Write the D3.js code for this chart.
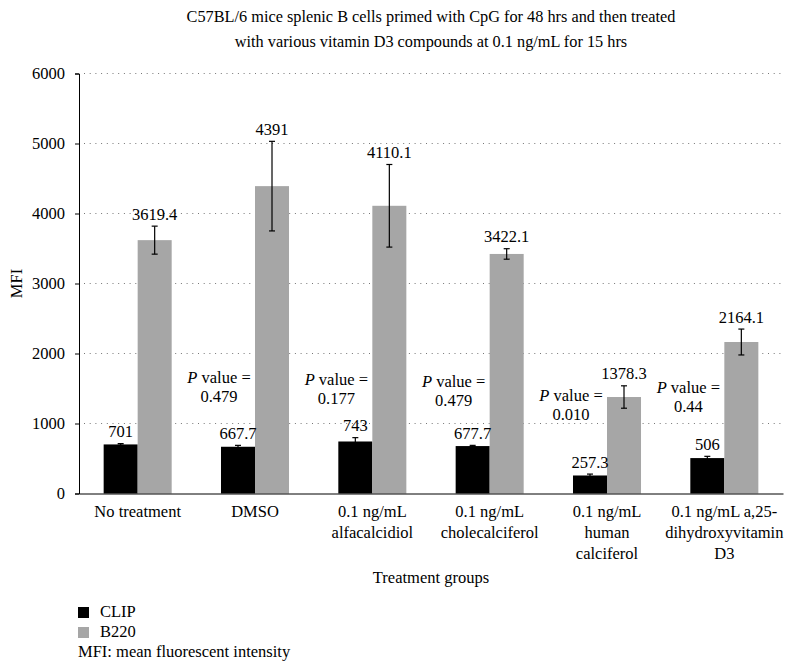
<!DOCTYPE html>
<html><head><meta charset="utf-8">
<script src="https://cdn.jsdelivr.net/npm/d3@7"></script>
<style>body{margin:0;background:#fff}svg{display:block}text{font-family:"Liberation Serif","DejaVu Serif",serif;fill:#000}</style>
</head><body><svg id="c" width="793" height="671"></svg>
<script>
const categories = [
  ["No treatment"],
  ["DMSO"],
  ["0.1 ng/mL","alfacalcidiol"],
  ["0.1 ng/mL","cholecalciferol"],
  ["0.1 ng/mL","human","calciferol"],
  ["0.1 ng/mL a,25-","dihydroxyvitamin","D3"]
];
const seriesNames = ["CLIP","B220"];
const seriesColors = ["#000000","#a6a6a6"];
const clipValues = [701, 667.7, 743, 677.7, 257.3, 506];
const clipErrors = [12, 20, 55, 10, 20, 25];
const b220Values = [3619.4, 4391, 4110.1, 3422.1, 1378.3, 2164.1];
const b220Errors = [200, 640, 590, 75, 160, 185];
const clipLabels = ["701","667.7","743","677.7","257.3","506"];
const b220Labels = ["3619.4","4391","4110.1","3422.1","1378.3","2164.1"];
const pValues = [null, "0.479", "0.177", "0.479", "0.010", "0.44"];
const pLabelAt = [null, 1580, 1550, 1520, 1320, 1440];
const yTicks = [0,1000,2000,3000,4000,5000,6000];
const titleLines = ["C57BL/6 mice splenic B cells primed with CpG for 48 hrs and then treated",
                    "with various vitamin D3 compounds at 0.1 ng/mL for 15 hrs"];
const xTitle = "Treatment groups";
const yTitle = "MFI";
const noteText = "MFI: mean fluorescent intensity";

const svg = d3.select("#c");
const L = 79, R = 783, T = 73.5, B = 493.5;
const FS = 16.5;

const x0 = d3.scaleBand().domain(d3.range(categories.length)).range([L, R]).padding(0);
const x1 = d3.scaleBand().domain(seriesNames).range([0, x0.bandwidth()]).paddingInner(0).paddingOuter(0.725);
const y = d3.scaleLinear().domain([0, 6000]).range([B, T]);

// title
svg.append("g").selectAll("text").data(titleLines).join("text")
  .attr("x", 431).attr("y", (d,i)=>22 + i*24.5).attr("text-anchor","middle")
  .style("font-size","16.3px").text(d=>d);

// gridlines
svg.append("g").selectAll("line").data(yTicks.filter(d=>d>0)).join("line")
  .attr("x1", L+5).attr("x2", R).attr("y1", d=>y(d)).attr("y2", d=>y(d))
  .attr("stroke","#777").attr("stroke-width",1).attr("stroke-dasharray","1,4.7");

// y axis
const yAxis = d3.axisLeft(y).tickValues(yTicks).tickSize(4).tickPadding(10).tickFormat(d3.format("d"));
const gy = svg.append("g").attr("transform",`translate(${L},0)`).call(yAxis);
gy.select(".domain").attr("stroke","#000");
gy.selectAll("text").style("font-size",FS+"px").style("font-family",'"Liberation Serif",serif');

// bars
const data = categories.map((c,i)=>({i, vals:[
  {s:"CLIP", v:clipValues[i], e:clipErrors[i], lab:clipLabels[i]},
  {s:"B220", v:b220Values[i], e:b220Errors[i], lab:b220Labels[i]}]}));
const g = svg.append("g").selectAll("g").data(data).join("g")
  .attr("transform", d=>`translate(${x0(d.i)},0)`);
g.selectAll("rect").data(d=>d.vals).join("rect")
  .attr("x", d=>x1(d.s)).attr("width", x1.bandwidth())
  .attr("y", d=>y(d.v)).attr("height", d=>B - y(d.v))
  .attr("fill", (d,i)=>seriesColors[i]);
// error bars
const eb = g.selectAll("g.err").data(d=>d.vals).join("g").attr("class","err")
  .attr("transform", d=>`translate(${x1(d.s)+x1.bandwidth()/2},0)`);
eb.append("line").attr("y1",d=>y(d.v+d.e)).attr("y2",d=>y(d.v-d.e)).attr("stroke","#000").attr("stroke-width",1.2);
eb.append("line").attr("x1",-3).attr("x2",3).attr("y1",d=>y(d.v+d.e)).attr("y2",d=>y(d.v+d.e)).attr("stroke","#000").attr("stroke-width",1.2);
eb.append("line").attr("x1",-3).attr("x2",3).attr("y1",d=>y(d.v-d.e)).attr("y2",d=>y(d.v-d.e)).attr("stroke","#000").attr("stroke-width",1.2);
eb.append("text").attr("y",d=>y(d.v+d.e)-6.5).attr("text-anchor","middle").style("font-size",FS+"px").text(d=>d.lab);

// p-values
const pg = svg.append("g").selectAll("g").data(d3.range(categories.length).filter(i=>pValues[i]!==null)).join("g")
  .attr("transform", i=>`translate(${x0(i)+x0.bandwidth()/2-36},${y(pLabelAt[i])})`);
pg.append("text").attr("text-anchor","middle").attr("y",0).style("font-size",FS+"px")
  .call(t=>{t.append("tspan").style("font-style","italic").text("P"); t.append("tspan").text(" value =");});
pg.append("text").attr("text-anchor","middle").attr("y",19).style("font-size",FS+"px").text(i=>pValues[i]);

// x axis
const xAxis = d3.axisBottom(x0).tickSize(0).tickFormat("");
const gx = svg.append("g").attr("transform",`translate(0,${B})`).call(xAxis);
gx.select(".domain").attr("stroke","#000");
svg.append("g").selectAll("text").data(categories.map((c,i)=>({c,i}))).join("text")
  .attr("text-anchor","middle").style("font-size",FS+"px")
  .attr("transform", d=>`translate(${x0(d.i)+x0.bandwidth()/2},${B+23.5})`)
  .selectAll("tspan").data(d=>d.c).join("tspan").attr("x",0).attr("y",(d,j)=>j*21).text(d=>d);

svg.append("text").attr("x",(L+R)/2).attr("y",583).attr("text-anchor","middle").style("font-size",FS+"px").text(xTitle);
svg.append("text").attr("transform",`translate(21.5,${(T+B)/2}) rotate(-90)`).attr("text-anchor","middle").style("font-size",FS+"px").text(yTitle);

// legend
const lg = svg.append("g").attr("transform","translate(78,607)");
const li = lg.selectAll("g").data(seriesNames).join("g").attr("transform",(d,i)=>`translate(0,${i*20})`);
li.append("rect").attr("width",11).attr("height",11).attr("fill",(d,i)=>seriesColors[i]);
li.append("text").attr("x",22).attr("y",10).style("font-size",FS+"px").text(d=>d);
lg.append("text").attr("x",0).attr("y",50).style("font-size",FS+"px").text(noteText);
</script></body></html>
